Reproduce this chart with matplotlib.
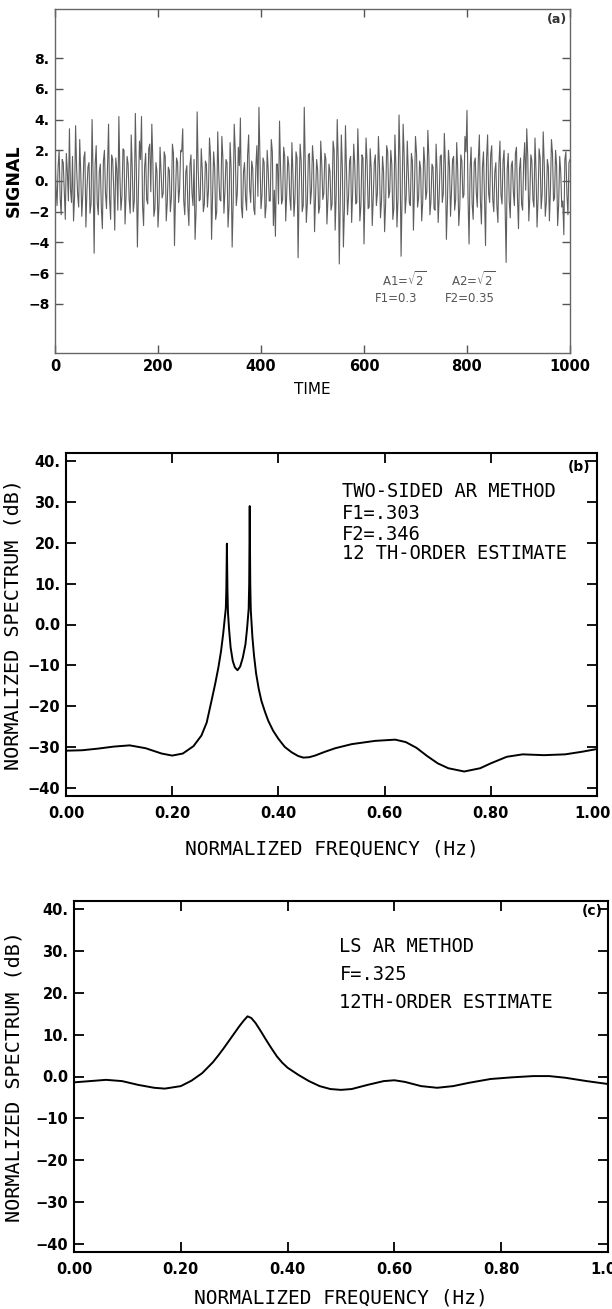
import matplotlib
matplotlib.use("Agg")
import matplotlib.pyplot as plt
import matplotlib.transforms as mtransforms

# panel (a): test signal, read every 2 time units
# values at t = 0, 4, 8, ...
signal_even = [
    1.8, -1.6, 2.0, -2.2, 1.2, -2.5, 0.6, 3.4, -1.4, -2.6,
    3.6, -0.9, 2.7, -2.3, 1.5, -3.0, 0.9, -2.1, 4.0, -4.7,
    2.3, -2.2, 1.1, -3.1, 2.0, -1.8, 3.7, -2.5, 1.4, -3.2,
    0.7, 4.2, -1.9, 2.1, -2.8, 1.6, -1.2, 3.0, -2.0, 4.4,
    -4.3, 2.6, 4.2, -2.9, 1.8, -1.5, 2.4, 3.7, -2.3, 1.2,
    -3.0, 2.2, -1.1, 1.9, -2.6, 0.9, -2.0, 2.4, -4.2, 1.5,
    -1.4, 2.0, 3.4, -2.2, 1.0, -2.9, 1.7, -1.6, -3.8, 4.5,
    -1.3, 2.1, -2.0, 1.3, -1.7, 2.8, -3.8, 1.9, -2.5, 3.2,
    -1.2, 2.9, -2.1, 1.4, -3.0, 2.5, -4.3, 3.7, -1.6, 2.2,
    4.1, -2.4, 1.2, -1.9, 3.0, -1.4, 0.8, -2.2, 2.3, 4.8,
    -1.8, 1.5, -2.4, 2.0, -1.3, 2.7, -2.9, -3.6, 1.1, 3.9,
    -1.5, 2.2, -2.6, 1.6, -1.1, 2.5, -2.3, 1.9, -5.0, 2.4,
    -2.0, 4.8, -2.7, 1.7, -1.5, 2.3, -3.3, 1.4, -2.1, 2.6,
    -1.2, 1.8, -2.8, 1.1, -1.9, 2.6, -3.2, 4.0, -5.4, 3.0,
    -4.3, 3.6, -2.2, 1.3, -2.7, 2.4, -1.5, 3.4, -2.6, 1.7,
    -4.1, 2.8, -1.8, 2.1, -2.9, 1.2, -1.6, 2.9, -2.4, 1.6,
    -3.3, 2.3, -1.1, 2.0, -2.5, 3.0, -3.0, 4.3, -4.9, 3.7,
    -2.1, 2.6, -1.4, 1.8, -3.2, 2.9, -1.7, 1.3, -2.6, 2.2,
    -1.2, 3.3, -2.2, 1.1, -1.8, 2.4, -2.7, 1.6, -1.4, 3.1,
    -3.8, 2.0, -2.3, 1.4, -1.9, 2.5, -2.9, 1.7, -1.1, 2.9,
    4.6, -4.1, 2.2, -2.5, 1.5, -1.7, 3.0, -2.8, 1.9, -4.2,
    3.0, -1.4, 2.3, -2.0, 1.2, -2.7, 2.6, -1.5, 2.0, -5.3,
    1.8, -2.4, 1.3, -1.6, 2.2, -3.1, 1.5, -1.9, 2.5, 3.4,
    -2.6, 1.7, -1.2, 2.8, -3.0, 2.1, -1.8, 3.2, -2.3, 1.4,
    -2.6, 2.7, -1.3, 2.0, -2.9, 1.6, -1.7, -3.5, 1.9, -2.2,
    1.4,
]
# values at t = 2, 6, 10, ...
signal_odd = [
    -0.4, 0.9, -1.1, 1.4, -0.7, 1.8, -1.3, -0.5, 1.6, -1.0,
    0.8, -1.7, 0.5, -0.9, 1.9, -0.6, 1.2, -1.5, 0.3, 1.1,
    -1.4, 0.6, -1.8, 1.3, -0.8, 1.0, -1.2, 1.7, -0.5, 1.5,
    -1.9, 0.4, -1.0, 2.0, -0.9, 1.1, -2.1, 0.8, -1.3, 0.7,
    -0.6, 1.4, -1.6, 0.9, -1.2, 2.1, -0.7, 1.3, -1.8, 0.6,
    -1.5, 0.5, -0.8, 1.6, -1.4, 0.7, -1.1, 1.8, -0.9, 1.2,
    -0.5, 1.9, -1.3, 0.6, -1.7, 1.0, -0.8, 1.4, -1.9, 0.8,
    -1.2, 0.7, -1.5, 1.1, -0.6, 1.6, -1.0, 0.9, -2.0, 0.5,
    -1.3, 1.5, -0.7, 1.2, -1.6, 0.8, -1.4, 2.0, -0.8, 1.0,
    -1.7, 0.6, -1.1, 1.7, -0.5, 1.3, -1.8, 0.9, -1.0, 1.4,
    -0.9, 1.2, -1.6, 0.7, -1.3, 1.9, -0.6, 1.1, -1.5, 0.8,
    -1.2, 1.6, -0.8, 1.0, -1.9, 0.5, -1.1, 1.5, -0.7, 1.3,
    -1.6, 0.9, -1.4, 1.8, -0.6, 1.2, -1.0, 0.7, -1.7, 1.1,
    -0.8, 1.4, -1.2, 0.6, -1.5, 2.0, -0.9, 1.3, -1.1, 0.8,
    -1.8, 0.7, -1.0, 1.6, -0.7, 1.1, -1.4, 0.9, -1.6, 1.5,
    -0.6, 1.2, -1.7, 0.8, -1.1, 1.7, -0.8, 1.0, -1.3, 0.6,
    -1.5, 1.9, -0.7, 1.1, -1.8, 0.9, -1.2, 1.4, -0.9, 1.6,
    -1.0, 0.6, -1.6, 1.3, -0.5, 1.8, -1.1, 0.8, -1.4, 1.2,
    -0.7, 1.5, -1.3, 0.9, -1.9, 0.6, -1.0, 1.7, -0.8, 1.1,
    -1.4, 1.0, -0.6, 1.6, -1.2, 0.7, -1.7, 1.3, -0.9, 1.9,
    -1.1, 0.8, -1.5, 1.2, -0.7, 1.4, -1.3, 0.9, -1.0, 1.5,
    -0.8, 1.7, -1.2, 0.6, -1.6, 1.1, -0.9, 1.3, -1.8, 0.7,
    -1.3, 1.0, -0.7, 1.8, -1.1, 0.8, -1.5, 1.2, -0.6, 1.6,
    -1.0, 1.3, -1.7, 0.7, -1.2, 1.5, -0.8, 1.1, -1.4, 0.9,
    -0.6, 1.8, -1.1, 1.0, -1.5, 0.6, -1.3, 1.4, -0.9, 1.2,
]

signal = []
for a, b in zip(signal_even, signal_odd):
    signal += [a, b]
signal.append(signal_even[-1])
time = [2 * i for i in range(len(signal))]

# panel (b): two-sided AR spectrum
freq_b = [0.000, 0.030, 0.060, 0.090, 0.120, 0.150, 0.180, 0.200, 0.220, 0.240,
          0.255, 0.265, 0.274, 0.281, 0.287, 0.292, 0.296, 0.299, 0.301, 0.302,
          0.303, 0.304, 0.305, 0.307, 0.310, 0.314, 0.318, 0.323, 0.328, 0.333,
          0.338, 0.341, 0.344, 0.345, 0.346, 0.347, 0.348, 0.351, 0.354, 0.358,
          0.363, 0.368, 0.375, 0.381, 0.390, 0.400, 0.412, 0.425, 0.437, 0.447,
          0.458, 0.469, 0.487, 0.507, 0.538, 0.582, 0.620, 0.640, 0.660, 0.680,
          0.700, 0.720, 0.750, 0.780, 0.800, 0.830, 0.860, 0.900, 0.940, 0.970,
          1.000]
spec_b = [-30.9, -30.8, -30.4, -29.9, -29.6, -30.3, -31.6, -32.1, -31.6, -29.8,
          -27.2, -24.0, -18.7, -14.5, -10.5, -6.5, -2.3, 1.5, 4.0, 9.0,
          19.8, 9.0, 3.0, -1.0, -5.6, -8.9, -10.5, -11.2, -10.3, -8.1,
          -4.8, -1.0, 3.8, 10.0, 29.0, 10.0, 3.5, -3.0, -7.5, -12.0,
          -15.8, -18.7, -21.5, -23.6, -26.0, -28.0, -30.0, -31.3, -32.2, -32.6,
          -32.5, -32.1, -31.2, -30.3, -29.3, -28.5, -28.2, -28.8, -30.2, -32.2,
          -34.0, -35.2, -36.0, -35.2, -34.0, -32.4, -31.8, -32.0, -31.8, -31.2,
          -30.5]

# panel (c): LS AR spectrum
freq_c = [0.00, 0.03, 0.06, 0.09, 0.12, 0.15, 0.17, 0.20, 0.22, 0.24,
          0.26, 0.27, 0.28, 0.29, 0.30, 0.31, 0.318, 0.325, 0.332, 0.34,
          0.35, 0.36, 0.37, 0.38, 0.39, 0.40, 0.42, 0.44, 0.46, 0.48,
          0.50, 0.52, 0.55, 0.58, 0.60, 0.62, 0.65, 0.68, 0.71, 0.74,
          0.78, 0.82, 0.86, 0.89, 0.92, 0.96, 1.00]
spec_c = [-1.4, -1.1, -0.8, -1.1, -2.0, -2.7, -2.9, -2.3, -1.0, 0.8,
          3.4, 5.0, 6.7, 8.5, 10.3, 12.1, 13.4, 14.4, 14.0, 12.8,
          10.8, 8.7, 6.7, 4.8, 3.3, 2.1, 0.4, -1.1, -2.3, -3.0,
          -3.2, -3.0, -2.0, -1.1, -0.9, -1.3, -2.3, -2.7, -2.3, -1.5,
          -0.6, -0.2, 0.1, 0.1, -0.3, -1.1, -1.8]

sig_ticks = [-8, -6, -4, -2, 0, 2, 4, 6, 8]
sig_labels = ["\u22128", "\u22126", "\u22124", "\u22122", "0.", "2.", "4.", "6.", "8."]
time_ticks = [0, 200, 400, 600, 800, 1000]
db_ticks = [-40, -30, -20, -10, 0, 10, 20, 30, 40]
db_labels = ["\u221240", "\u221230", "\u221220", "\u221210", "0.0", "10.", "20.", "30.", "40."]
f_ticks = [0.0, 0.2, 0.4, 0.6, 0.8, 1.0]
f_labels = ["0.00", "0.20", "0.40", "0.60", "0.80", "1.00"]

W, H = 612, 1309
fig = plt.figure(figsize=(W / 100, H / 100), dpi=100)


def box(left, top, right, bottom):
    return [left / W, 1 - bottom / H, (right - left) / W, (bottom - top) / H]


mono = "DejaVu Sans Mono"
tickfont = dict(family="DejaVu Sans", weight="bold")

# ---- (a) signal
ax = fig.add_axes(box(55, 9, 570, 353))
ax.plot(time, signal, color="#5e5e5e", lw=0.8)
ax.set_xlim(0, 1000)
ax.set_ylim(-11.2, 11.2)
ax.set_xticks(time_ticks)
ax.set_xticklabels([str(t) for t in time_ticks], fontsize=10.5, **tickfont)
ax.set_yticks(sig_ticks)
ax.set_yticklabels(sig_labels, fontsize=10, **tickfont)
ax.tick_params(direction="in", top=True, right=True, length=6, width=1.0,
               color="#555555", pad=4)
for s in ax.spines.values():
    s.set_color("#666666")
    s.set_linewidth(1.0)
ax.set_ylabel("SIGNAL", fontsize=12.5, family="DejaVu Sans", weight="bold")
ax.yaxis.set_label_coords(-0.062, 0.5)
ax.set_xlabel("TIME", fontsize=11, family="DejaVu Sans")
ax.xaxis.set_label_coords(0.5, -0.085)
ax.text(975, 10.5, "(a)", fontsize=9, ha="center", va="center", weight="bold",
        color="#333333")
ax.text(635, -6.45, r"A1=$\sqrt{2}$", fontsize=8.5, color="#555555", va="center")
ax.text(768, -6.45, r"A2=$\sqrt{2}$", fontsize=8.5, color="#555555", va="center")
ax.text(622, -7.65, "F1=0.3", fontsize=8.5, color="#555555", va="center")
ax.text(757, -7.65, "F2=0.35", fontsize=8.5, color="#555555", va="center")


def spectrum_axes(rect, freq, spec, tag, lines, text_x, text_y, tag_x, tag_y):
    ax = fig.add_axes(rect)
    ax.plot(freq, spec, color="black", lw=1.4)
    ax.set_xlim(0, 1)
    ax.set_ylim(-42, 42)
    ax.set_xticks(f_ticks)
    ax.set_xticklabels(f_labels, fontsize=10.5, **tickfont)
    ax.set_yticks(db_ticks)
    ax.set_yticklabels(db_labels, fontsize=10.5, **tickfont)
    ax.tick_params(direction="in", top=True, right=True, length=7, width=1.3, pad=4)
    ax.tick_params(axis="x", pad=7)
    for s in ax.spines.values():
        s.set_linewidth(1.5)
    ax.set_ylabel("NORMALIZED SPECTRUM (dB)", fontsize=14.5, family=mono)
    ax.set_xlabel("NORMALIZED FREQUENCY (Hz)", fontsize=14, family=mono)
    ax.text(tag_x, tag_y, tag, fontsize=10, weight="bold", ha="center", va="center")
    for txt, y in zip(lines, text_y):
        ax.text(text_x, y, txt, fontsize=13.5, family=mono, va="center")
    return ax


ax_b = spectrum_axes(box(66, 453, 597, 796), freq_b, spec_b, "(b)",
                     ["TWO-SIDED AR METHOD", "F1=.303", "F2=.346", "12 TH-ORDER ESTIMATE"],
                     0.519, [32.6, 27.1, 22.1, 17.4], 0.967, 38.6)
ax_b.yaxis.set_label_coords(-0.081, 0.5)
ax_b.xaxis.set_label_coords(0.5, -0.128)
# keep the last frequency label of (b) inside the page, as in the original
last = ax_b.get_xticklabels()[-1]
last.set_transform(last.get_transform() +
                   mtransforms.ScaledTranslation(-0.04, 0, fig.dpi_scale_trans))

ax_c = spectrum_axes(box(74, 901, 608, 1252), freq_c, spec_c, "(c)",
                     ["LS AR METHOD", "F=.325", "12TH-ORDER ESTIMATE"],
                     0.497, [31.0, 24.3, 17.8], 0.971, 39.6)
ax_c.yaxis.set_label_coords(-0.095, 0.5)
ax_c.xaxis.set_label_coords(0.5, -0.104)

fig.savefig("out.png", dpi=100)
